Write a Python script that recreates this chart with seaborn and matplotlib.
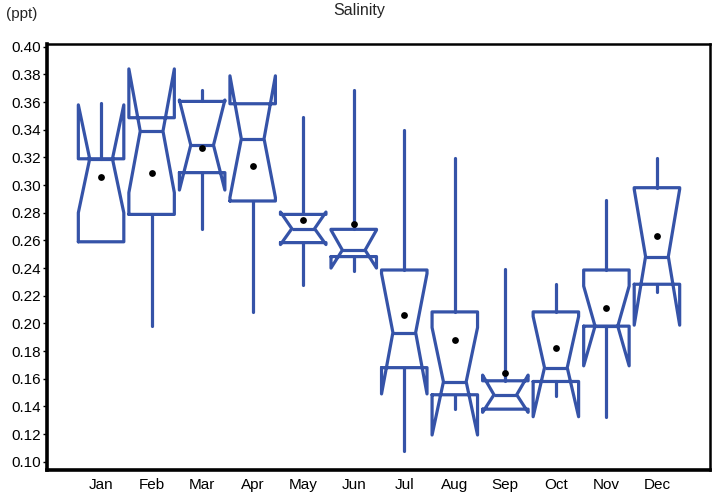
import matplotlib
matplotlib.use("Agg")
import matplotlib.pyplot as plt
from matplotlib.ticker import FormatStrFormatter
import seaborn as sns
import pandas as pd

months = ["Jan", "Feb", "Mar", "Apr", "May", "Jun", "Jul", "Aug", "Sep", "Oct", "Nov", "Dec"]
whislo = [0.259, 0.198, 0.268, 0.208, 0.228, 0.238, 0.108, 0.138, 0.138, 0.1477, 0.1325, 0.2227]
q1     = [0.259, 0.2788, 0.309, 0.2885, 0.2584, 0.2483, 0.168, 0.1484, 0.138, 0.158, 0.198, 0.2283]
median = [0.319, 0.339, 0.3289, 0.3335, 0.2685, 0.253, 0.1934, 0.1578, 0.1484, 0.168, 0.198, 0.2483]
q3     = [0.319, 0.3487, 0.3605, 0.3588, 0.2788, 0.268, 0.2386, 0.2083, 0.1585, 0.2083, 0.2386, 0.2981]
whishi = [0.359, 0.3487, 0.369, 0.3588, 0.349, 0.369, 0.3395, 0.3195, 0.239, 0.2288, 0.289, 0.3195]
ci_lo  = [0.280, 0.2945, 0.2964, 0.291, 0.257, 0.240, 0.149, 0.1193, 0.1357, 0.1325, 0.1693, 0.1987]
ci_hi  = [0.358, 0.384, 0.3615, 0.379, 0.2805, 0.2675, 0.236, 0.197, 0.1626, 0.205, 0.227, 0.297]
means  = [0.306, 0.3085, 0.327, 0.3136, 0.2747, 0.2716, 0.2064, 0.188, 0.164, 0.182, 0.211, 0.2632]
ytick_values = [0.10, 0.12, 0.14, 0.16, 0.18, 0.20, 0.22, 0.24, 0.26, 0.28, 0.30, 0.32, 0.34, 0.36, 0.38, 0.40]

sns.set_style("white")
plt.rcParams['font.family'] = ['Liberation Sans', 'DejaVu Sans']

fig = plt.figure(figsize=(7.12, 4.93), dpi=100)
ax = fig.add_axes([47/712, 23/493, 663/712, 426/493])

positions = list(range(len(months)))
stats = []
for i, m in enumerate(months):
    stats.append(dict(label=m, whislo=whislo[i], q1=q1[i], med=median[i], q3=q3[i],
                      whishi=whishi[i], cilo=ci_lo[i], cihi=ci_hi[i], fliers=[]))

color = '#3553a8'
lw = 2.3
ax.bxp(stats, positions=positions, widths=0.9, shownotches=True, showcaps=False,
       showfliers=False, patch_artist=False,
       boxprops=dict(color=color, linewidth=lw),
       whiskerprops=dict(color=color, linewidth=lw),
       medianprops=dict(color=color, linewidth=lw))

df = pd.DataFrame({"pos": positions, "mean": means})
sns.scatterplot(data=df, x="pos", y="mean", color="black", s=24, linewidth=0,
                ax=ax, zorder=5, legend=False)

ax.set_xlim(-1.07, 12.05)
ax.set_ylim(0.094, 0.402)
ax.set_xticks(positions)
ax.set_xticklabels(months)
ax.set_yticks(ytick_values)
ax.yaxis.set_major_formatter(FormatStrFormatter('%.2f'))
ax.set_xlabel("")
ax.set_ylabel("")
ax.tick_params(axis='x', length=0, pad=6, labelsize=11, colors='black')
ax.tick_params(axis='y', length=3, width=1, direction='out', pad=1.5, labelsize=11,
               colors='black', left=True)

for side in ['left', 'bottom']:
    ax.spines[side].set_linewidth(2.6)
    ax.spines[side].set_color('black')
for side in ['top', 'right']:
    ax.spines[side].set_linewidth(1.8)
    ax.spines[side].set_color('black')
    ax.spines[side].set_visible(True)

fig.text(359/712, 1 - 11/493, "Salinity", ha='center', va='center', fontsize=11.5)
fig.text(6/712, 1 - 14/493, "(ppt)", ha='left', va='center', fontsize=11)

fig.savefig("out.png", dpi=100)
